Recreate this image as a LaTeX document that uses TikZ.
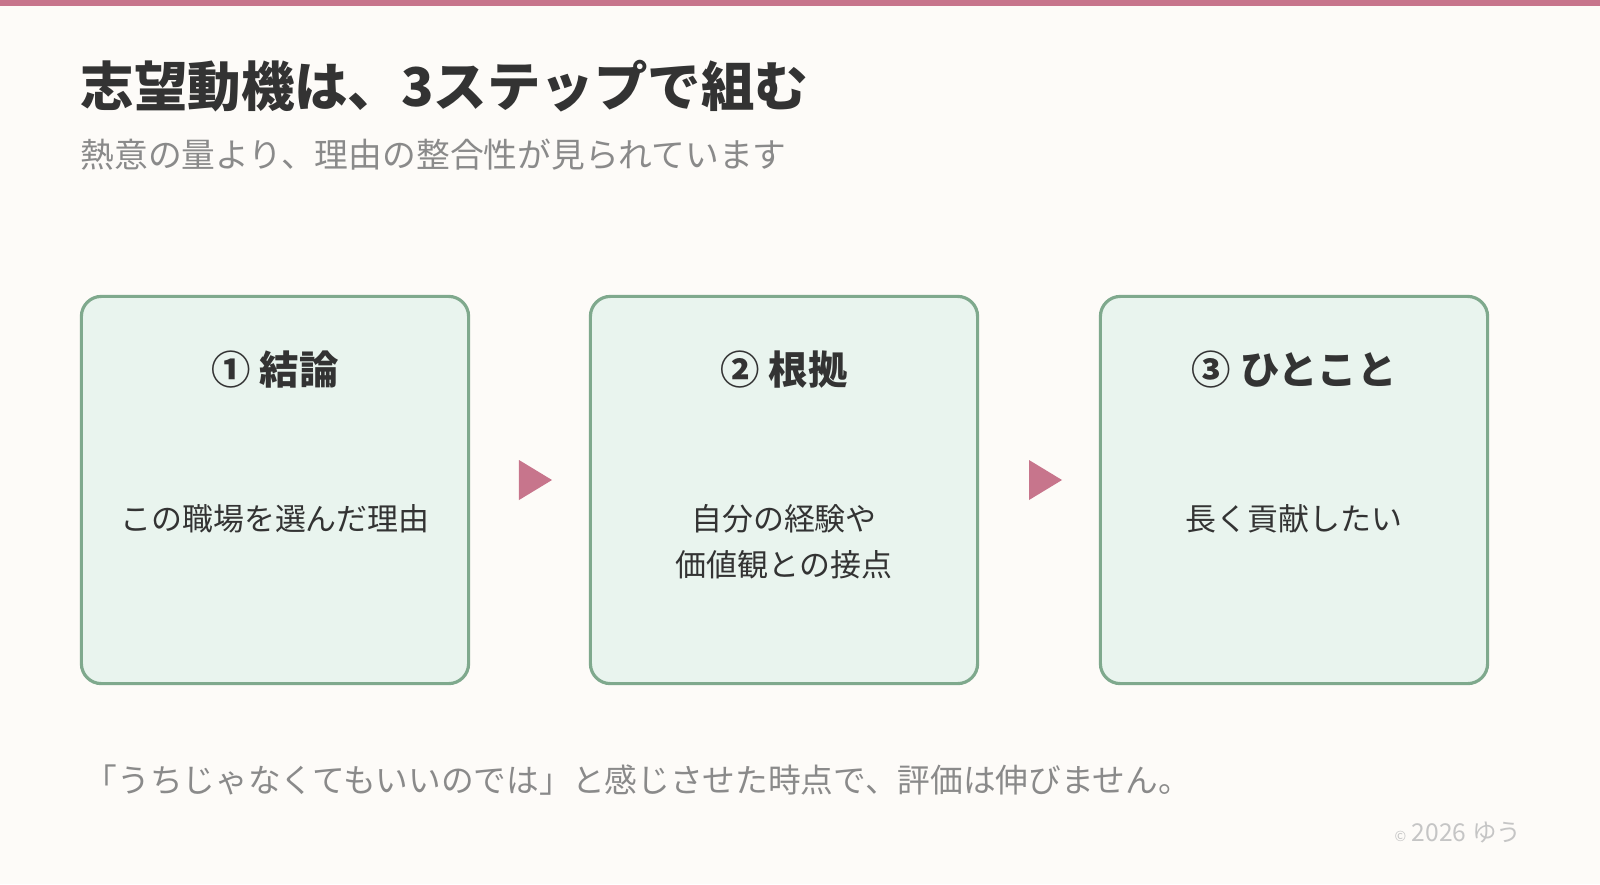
\documentclass[tikz,border=0pt]{standalone}
\usepackage{fontspec}
\setmainfont{Noto Sans CJK JP}
\usepackage{tikz}
\usetikzlibrary{positioning}
\definecolor{bgpaper}{HTML}{FDFBF8}
\definecolor{accentpink}{HTML}{C7758C}
\definecolor{boxgreen}{HTML}{7FA98D}
\definecolor{boxfill}{HTML}{E9F4EE}
\definecolor{titlegray}{HTML}{333333}
\definecolor{subgray}{HTML}{8A8A8A}
\begin{document}
\begin{tikzpicture}[
        x=0.01cm, y=-0.01cm,
        stepbox/.style={rectangle, draw=boxgreen, fill=boxfill, line width=0.9pt,
                     rounded corners=0.2cm, minimum width=3.87cm, minimum height=3.87cm},
        heading/.style={font=\fontsize{11.2}{13}\selectfont\bfseries, text=titlegray},
        body/.style={font=\fontsize{8.8}{13}\selectfont, text=titlegray, align=center},
        arrowhead/.style={fill=accentpink, draw=none}
      ]
      % background and top bar
      \useasboundingbox (0,0) rectangle (1600,884);
      \fill[bgpaper] (0,0) rectangle (1600,884);
      \fill[accentpink] (0,0) rectangle (1600,6);

      % title
      \node (title) [anchor=base west, inner sep=0pt, text=titlegray,
                     font=\fontsize{15.2}{17}\selectfont\bfseries] at (80,106) {志望動機は、3ステップで組む};
      \node (subtitle) [anchor=base west, inner sep=0pt, text=subgray,
                        font=\fontsize{9.6}{11}\selectfont] at (80,167) {熱意の量より、理由の整合性が見られています};

      % steps
      \node (conclusion) [stepbox] at (275,490) {};
      \node (reason) [stepbox] at (784,490) {};
      \node (word) [stepbox] at (1294,490) {};

      \node (conclusion_h) [heading] at (275,370) {① 結論};
      \node (reason_h) [heading] at (784,370) {② 根拠};
      \node (word_h) [heading] at (1294,370) {③ ひとこと};

      \node (conclusion_t) [body] at (275,519) {この職場を選んだ理由};
      \node (reason_t) [body] at (784,542) {自分の経験や\\価値観との接点};
      \node (word_t) [body] at (1294,519) {長く貢献したい};

      % arrows between steps
      \coordinate (arrow_a) at (535,480);
      \coordinate (arrow_b) at (1045,480);
      \fill[arrowhead] ([xshift=-0.16cm, yshift=0.2cm]arrow_a) -- ([xshift=0.17cm]arrow_a) -- ([xshift=-0.16cm, yshift=-0.2cm]arrow_a) -- cycle;
      \fill[arrowhead] ([xshift=-0.16cm, yshift=0.2cm]arrow_b) -- ([xshift=0.17cm]arrow_b) -- ([xshift=-0.16cm, yshift=-0.2cm]arrow_b) -- cycle;

      % footer
      \node (note) [anchor=base west, inner sep=0pt, text=subgray,
                    font=\fontsize{9.3}{11}\selectfont] at (84,792) {「うちじゃなくてもいいのでは」と感じさせた時点で、評価は伸びません。};
      \node (credit) [anchor=base east, inner sep=0pt, text=subgray!50,
                      font=\fontsize{7}{9}\selectfont] at (1522,841) {{\fontsize{4}{5}\selectfont ©} 2026 ゆう};
    \end{tikzpicture}
\end{document}
